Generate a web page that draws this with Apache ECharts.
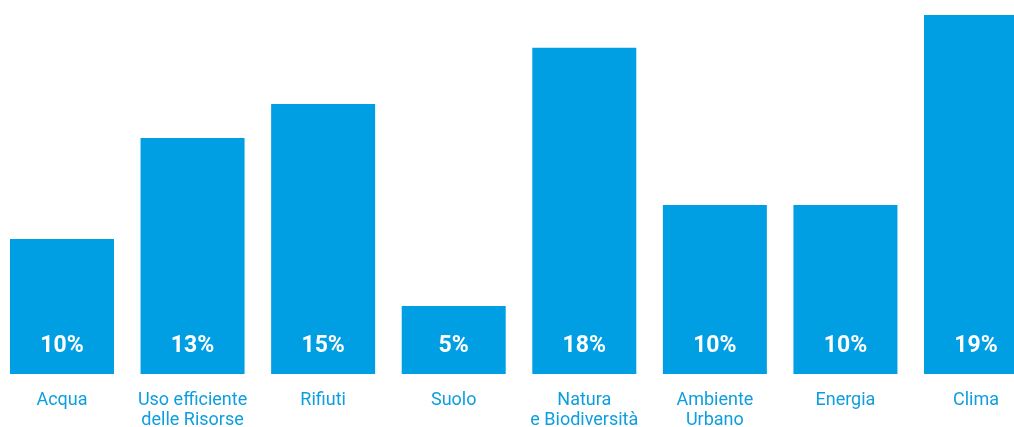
<!DOCTYPE html>
<html>
<head>
<meta charset="utf-8">
<script src="https://cdn.jsdelivr.net/npm/echarts@6/dist/echarts.min.js"></script>
<style>
html,body{margin:0;padding:0;background:#fff;overflow:hidden;}
#c{width:1014px;height:427px;}
</style>
</head>
<body>
<div id="c"></div>
<script>
const categories = ['Acqua', 'Uso efficiente\ndelle Risorse', 'Rifiuti', 'Suolo', 'Natura\ne Biodiversità', 'Ambiente\nUrbano', 'Energia', 'Clima'];
const barHeights = [36.1, 63.1, 72.2, 18.2, 87.2, 45.2, 45.2, 96.0];
const percentLabels = ['10%', '13%', '15%', '5%', '18%', '10%', '10%', '19%'];

const chart = echarts.init(document.getElementById('c'), null, {renderer: 'canvas'});
chart.setOption({
  animation: false,
  grid: {left: -3.3, right: -27.3, top: 0, bottom: 53, containLabel: false, outerBoundsMode: 'none'},
  xAxis: {
    type: 'category',
    data: categories,
    axisLine: {show: false},
    axisTick: {show: false},
    axisLabel: {
      interval: 0,
      margin: 16,
      color: '#0d9ee0',
      fontFamily: 'Roboto',
      fontSize: 18,
      lineHeight: 20.5
    }
  },
  yAxis: {
    type: 'value',
    min: 0,
    max: 100,
    show: false,
    splitLine: {show: false}
  },
  series: [{
    type: 'bar',
    data: barHeights,
    barCategoryGap: '20.35%',
    itemStyle: {color: '#009fe3'},
    label: {
      show: true,
      position: 'insideBottom',
      distance: 16,
      color: '#ffffff',
      fontFamily: 'Roboto',
      fontWeight: 'bold',
      fontSize: 23,
      formatter: p => percentLabels[p.dataIndex]
    }
  }]
});
</script>
</body>
</html>
